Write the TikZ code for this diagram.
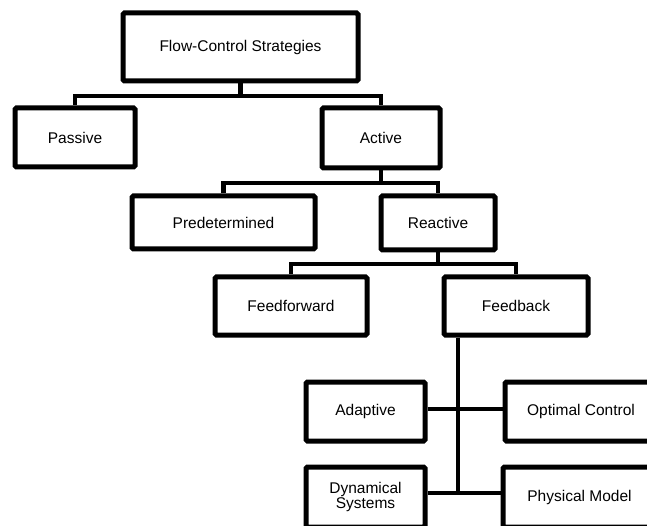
\documentclass[tikz,border=0pt]{standalone}
\usepackage{fontspec}
\setmainfont{Liberation Sans}
\begin{document}
\begin{tikzpicture}[x=1pt,y=-1pt,
  box/.style={draw=black,line width=5pt,rounded corners=1.5pt,rectangle,inner sep=0pt,
    align=center,font=\fontsize{15.5}{15}\selectfont},
  conn/.style={draw=black,line width=4.5pt}]
\useasboundingbox (0,0) rectangle (647,526);
\node[box,minimum width=235,minimum height=68] (top) at (240.5,47) {Flow-Control Strategies};
\node[box,minimum width=120,minimum height=59] (passive) at (75,137.5) {Passive};
\node[box,minimum width=118,minimum height=60] (active) at (381,138) {Active};
\node[box,minimum width=183,minimum height=53] (predet) at (223.5,222.5) {Predetermined};
\node[box,minimum width=114,minimum height=54] (reactive) at (438,223) {Reactive};
\node[box,minimum width=152,minimum height=58] (ffwd) at (291,306) {Feedforward};
\node[box,minimum width=144,minimum height=58] (fb) at (516,306) {Feedback};
\node[box,minimum width=119,minimum height=59] (adaptive) at (365.5,411.5) {Adaptive};
\node[box,minimum width=152,minimum height=59] (optimal) at (581,411.5) {Optimal Control};
\node[box,minimum width=119,minimum height=60] (dyn) at (365.5,497) {Dynamical\\Systems};
\node[box,minimum width=153,minimum height=60] (phys) at (579.5,497) {Physical Model};
\draw[conn] (top.south) -- ++(0,12.5) -| (passive.north);
\draw[conn] (top.south) -- ++(0,12.5) -| (active.north);
\draw[conn] (active.south) -- ++(0,12.5) -| (predet.north);
\draw[conn] (active.south) -- ++(0,12.5) -| (reactive.north);
\draw[conn] (reactive.south) -- ++(0,11.5) -| (ffwd.north);
\draw[conn] (reactive.south) -- ++(0,11.5) -| (fb.north);
\coordinate (j1) at (458,409);
\coordinate (j2) at (458,493);
\draw[conn] (fb.south -| j1) -- ([yshift=-2.25pt]j2);
\draw[conn] (adaptive.east |- j1) -- (optimal.west |- j1);
\draw[conn] (dyn.east |- j2) -- (phys.west |- j2);
\end{tikzpicture}
\end{document}
